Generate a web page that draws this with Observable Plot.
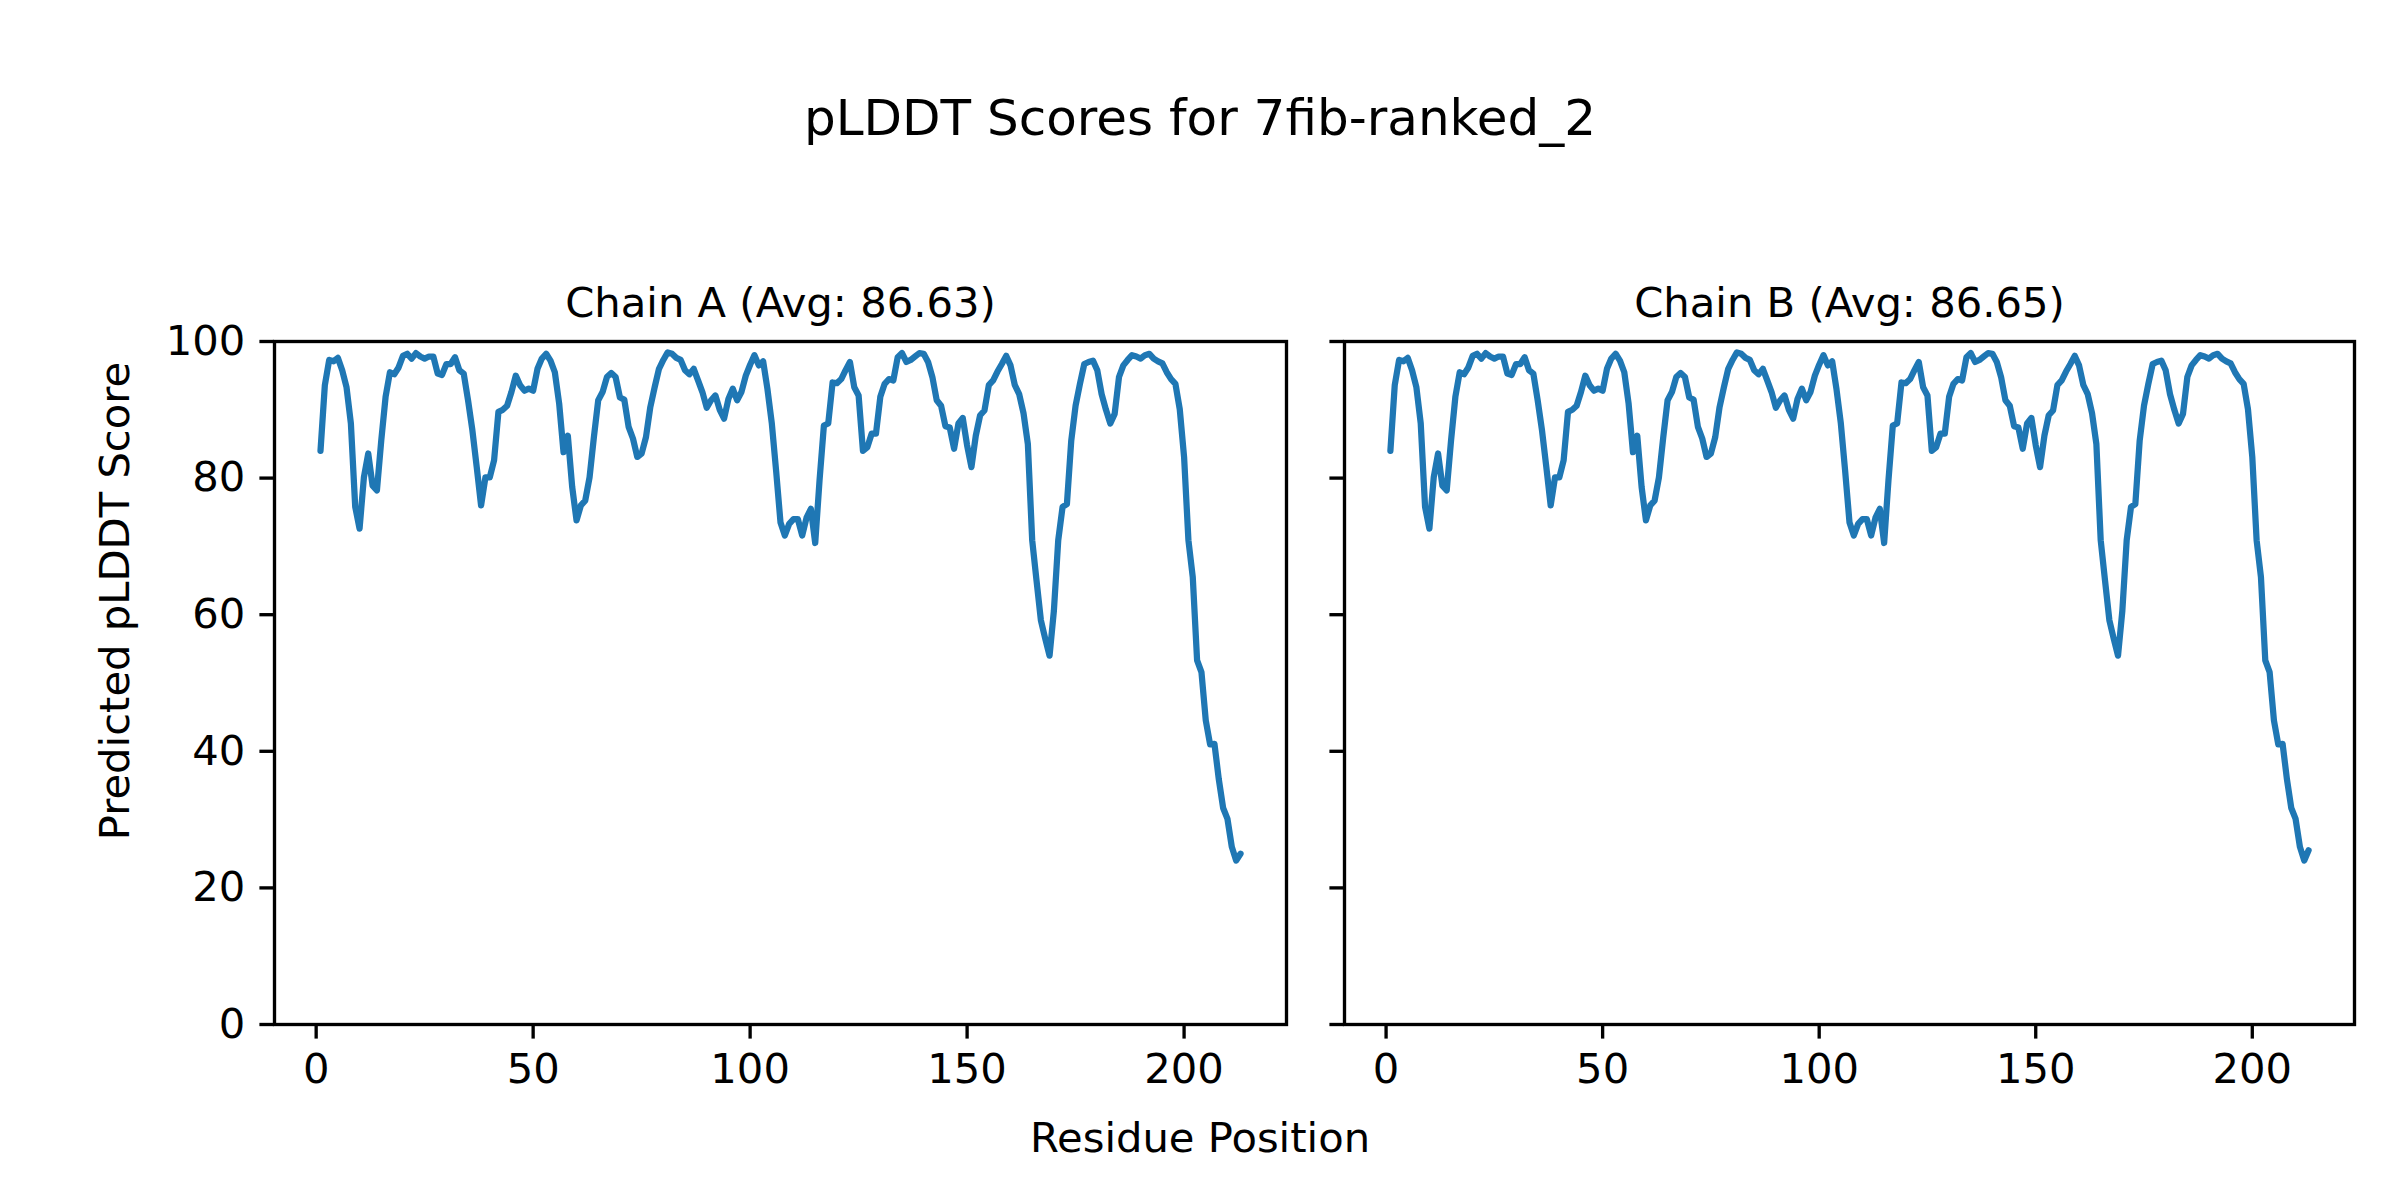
<!DOCTYPE html>
<html>
<head>
<meta charset="utf-8">
<script src="https://cdn.jsdelivr.net/npm/d3@7"></script>
<script src="https://cdn.jsdelivr.net/npm/@observablehq/plot@0.6"></script>
<style>
  html, body { margin: 0; padding: 0; background: white; }
  #fig { position: relative; width: 2400px; height: 1200px; font-family: "DejaVu Sans", sans-serif; color: black; overflow: hidden; }
  .abs { position: absolute; }
  .suptitle { left: 0; width: 2400px; top: 93px; text-align: center; font-size: 50px; line-height: 50px; white-space: nowrap; }
  .supxlabel { left: 0; width: 2400px; top: 1117px; text-align: center; font-size: 41.7px; line-height: 41.7px; white-space: nowrap; }
</style>
</head>
<body>
<div id="fig">
  <div class="abs suptitle">pLDDT Scores for 7fib-ranked_2</div>
  <div class="abs supxlabel">Residue Position</div>
  <div class="abs" id="plotA" style="left:0;top:0;"></div>
  <div class="abs" id="plotB" style="left:1300px;top:0;"></div>
</div>
<script>
const chainTitles = ["Chain A (Avg: 86.63)", "Chain B (Avg: 86.65)"];
const xTicks = [0, 50, 100, 150, 200];
const yTicks = [0, 20, 40, 60, 80, 100];
const yLabel = "Predicted pLDDT Score";

const chainA = [
  84.0, 93.6, 97.3, 97.1, 97.6, 95.8, 93.3, 88.0, 75.8, 72.6,
  80.1, 83.6, 78.9, 78.2, 85.5, 91.9, 95.5, 95.2, 96.2, 97.9,
  98.2, 97.5, 98.3, 97.8, 97.5, 97.8, 97.8, 95.3, 95.1, 96.7,
  96.7, 97.7, 95.8, 95.3, 91.4, 87.0, 81.6, 76.0, 80.1, 80.1,
  82.6, 89.7, 90.0, 90.6, 92.6, 95.0, 93.6, 92.8, 93.1, 92.8,
  96.0, 97.5, 98.2, 97.2, 95.5, 90.9, 83.8, 86.2, 78.7, 73.8,
  76.0, 76.7, 80.1, 86.0, 91.4, 92.6, 94.8, 95.4, 94.8, 91.8,
  91.5, 87.5, 85.8, 83.1, 83.6, 86.0, 90.4, 93.3, 96.0, 97.3,
  98.4, 98.2, 97.6, 97.3, 95.8, 95.2, 96.0, 94.3, 92.6, 90.3,
  91.4, 92.1, 90.0, 88.7, 91.6, 93.1, 91.4, 92.6, 95.0, 96.6,
  98.0, 96.5, 97.1, 93.0, 88.0, 81.0, 73.5, 71.6, 73.3, 74.0,
  74.0, 71.6, 74.2, 75.5, 70.5, 79.7, 87.7, 88.0, 94.0, 93.9,
  94.5, 95.8, 97.0, 93.3, 92.1, 84.0, 84.5, 86.5, 86.5, 91.9,
  93.8, 94.5, 94.3, 97.7, 98.3, 97.0, 97.3, 97.8, 98.3, 98.2,
  97.0, 94.8, 91.4, 90.6, 87.6, 87.4, 84.3, 88.0, 88.8, 84.8,
  81.6, 86.2, 89.2, 89.9, 93.6, 94.3, 95.6, 96.7, 97.9, 96.5,
  93.6, 92.3, 89.5, 85.0, 70.9, 65.0, 59.2, 56.5, 54.0, 60.6,
  70.9, 75.8, 76.2, 85.5, 90.6, 93.8, 96.7, 97.0, 97.2, 95.8,
  92.3, 90.0, 88.0, 89.4, 94.8, 96.5, 97.3, 98.0, 97.8, 97.5,
  98.0, 98.2, 97.5, 97.1, 96.8, 95.5, 94.5, 93.8, 90.1, 83.1,
  70.9, 65.5, 53.3, 51.6, 44.5, 41.0, 41.1, 35.9, 31.7, 30.1,
  26.0, 24.0, 25.0
];
const chainB = [
  84.0, 93.6, 97.3, 97.1, 97.6, 95.8, 93.3, 88.0, 75.8, 72.6,
  80.1, 83.6, 78.9, 78.2, 85.5, 91.9, 95.5, 95.2, 96.2, 97.9,
  98.2, 97.5, 98.3, 97.8, 97.5, 97.8, 97.8, 95.3, 95.1, 96.7,
  96.7, 97.7, 95.8, 95.3, 91.4, 87.0, 81.6, 76.0, 80.1, 80.1,
  82.6, 89.7, 90.0, 90.6, 92.6, 95.0, 93.6, 92.8, 93.1, 92.8,
  96.0, 97.5, 98.2, 97.2, 95.5, 90.9, 83.8, 86.2, 78.7, 73.8,
  76.0, 76.7, 80.1, 86.0, 91.4, 92.6, 94.8, 95.4, 94.8, 91.8,
  91.5, 87.5, 85.8, 83.1, 83.6, 86.0, 90.4, 93.3, 96.0, 97.3,
  98.4, 98.2, 97.6, 97.3, 95.8, 95.2, 96.0, 94.3, 92.6, 90.3,
  91.4, 92.1, 90.0, 88.7, 91.6, 93.1, 91.4, 92.6, 95.0, 96.6,
  98.0, 96.5, 97.1, 93.0, 88.0, 81.0, 73.5, 71.6, 73.3, 74.0,
  74.0, 71.6, 74.2, 75.5, 70.5, 79.7, 87.7, 88.0, 94.0, 93.9,
  94.5, 95.8, 97.0, 93.3, 92.1, 84.0, 84.5, 86.5, 86.5, 91.9,
  93.8, 94.5, 94.3, 97.7, 98.3, 97.0, 97.3, 97.8, 98.3, 98.2,
  97.0, 94.8, 91.4, 90.6, 87.6, 87.4, 84.3, 88.0, 88.8, 84.8,
  81.6, 86.2, 89.2, 89.9, 93.6, 94.3, 95.6, 96.7, 97.9, 96.5,
  93.6, 92.3, 89.5, 85.0, 70.9, 65.0, 59.2, 56.5, 54.0, 60.6,
  70.9, 75.8, 76.2, 85.5, 90.6, 93.8, 96.7, 97.0, 97.2, 95.8,
  92.3, 90.0, 88.0, 89.4, 94.8, 96.5, 97.3, 98.0, 97.8, 97.5,
  98.0, 98.2, 97.5, 97.1, 96.8, 95.5, 94.5, 93.8, 90.1, 83.1,
  70.9, 65.5, 53.3, 51.6, 44.5, 41.0, 41.1, 35.9, 31.7, 30.1,
  26.0, 24.0, 25.5
];

const FS = 41.7;
const TICK = 14.6;
const LW = 3.33;

function toRows(values) {
  return values.map((v, i) => ({residue: i + 1, score: v}));
}

function makePlot(values, title, opts) {
  const rows = toRows(values);
  const n = rows.length;
  const span = n - 1;
  const pad = span * 0.05;
  const marks = [
    Plot.line(rows, {x: "residue", y: "score", stroke: "#1f77b4", strokeWidth: 6.25}),
    Plot.frame({stroke: "black", strokeWidth: LW}),
    Plot.axisX({ticks: xTicks, tickSize: TICK, tickPadding: TICK, strokeWidth: LW, fontSize: FS, label: null, fill: "black", stroke: "black"}),
    Plot.text([title], {frameAnchor: "top", dy: -25, lineAnchor: "bottom", fontSize: FS, fill: "black"})
  ];
  if (opts.showYLabels) {
    marks.push(Plot.axisY({ticks: yTicks, tickSize: TICK, tickPadding: TICK, strokeWidth: LW, fontSize: FS, label: null, fill: "black", stroke: "black"}));
    // figure-level y label, centred on the whole figure height (y = 600)
    marks.push(Plot.text([yLabel], {frameAnchor: "left", dx: -146, dy: -82, rotate: -90, textAnchor: "middle", lineAnchor: "bottom", fontSize: FS, fill: "black"}));
  } else {
    marks.push(Plot.axisY({ticks: yTicks, tickSize: TICK, strokeWidth: LW, tickFormat: () => "", label: null, stroke: "black"}));
  }
  return Plot.plot({
    width: opts.width,
    height: 1200,
    marginLeft: opts.marginLeft,
    marginRight: opts.marginRight,
    marginTop: 341,
    marginBottom: 176,
    style: {fontFamily: "DejaVu Sans", fontSize: FS + "px", color: "black", background: "transparent", overflow: "visible"},
    x: {domain: [1 - pad, n + pad]},
    y: {domain: [0, 100]},
    marks
  });
}

document.getElementById("plotA").appendChild(makePlot(chainA, chainTitles[0], {width: 1300, marginLeft: 274, marginRight: 14, showYLabels: true}));
document.getElementById("plotB").appendChild(makePlot(chainB, chainTitles[1], {width: 1100, marginLeft: 44, marginRight: 46, showYLabels: false}));
</script>
</body>
</html>
